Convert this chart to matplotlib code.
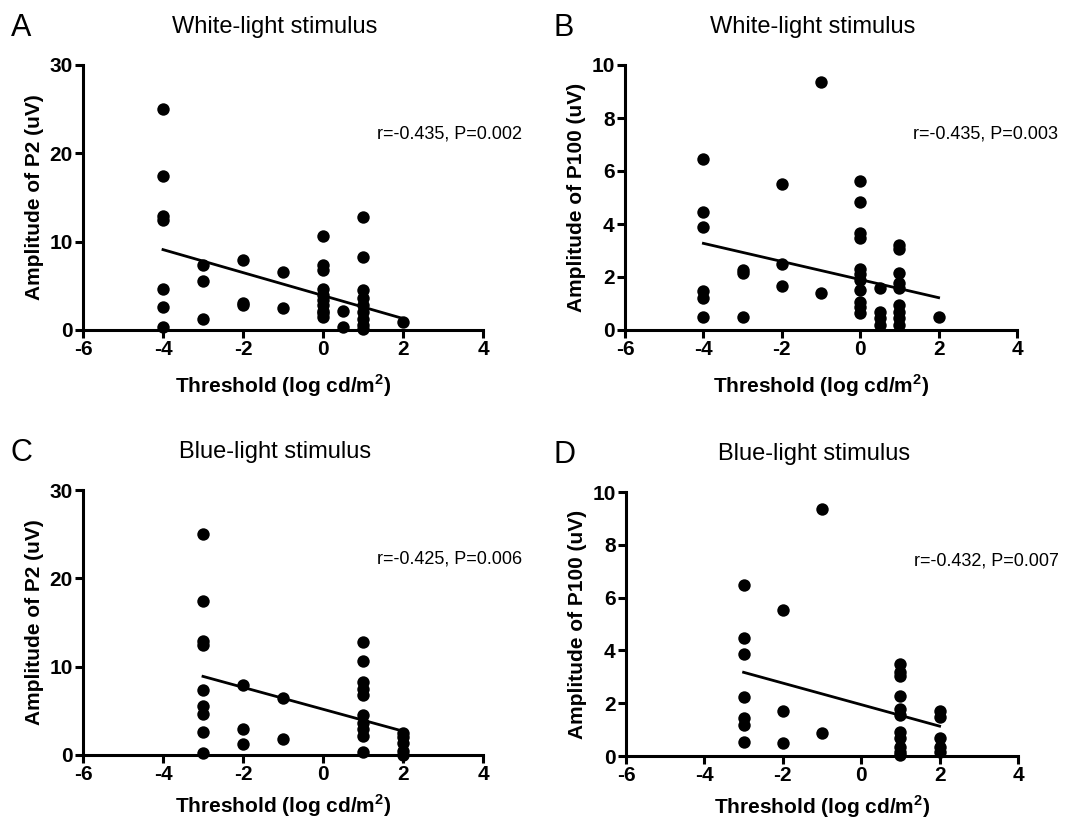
import matplotlib
matplotlib.use("Agg")
import matplotlib.pyplot as plt

plt.rcParams["font.family"] = ["Liberation Sans", "DejaVu Sans"]
plt.rcParams["axes.unicode_minus"] = False
plt.rcParams["mathtext.fontset"] = "custom"
plt.rcParams["mathtext.rm"] = "Liberation Sans"
plt.rcParams["mathtext.bf"] = "Liberation Sans:bold"

# Panel A: white light, P2
a_x = [-4, -4, -4, -4, -4, -4, -4,
       -3, -3, -3,
       -2, -2, -2,
       -1, -1,
       0, 0, 0, 0, 0, 0, 0, 0, 0, 0,
       0.5, 0.5,
       1, 1, 1, 1, 1, 1, 1, 1, 1,
       2]
a_y = [25.0, 17.4, 12.9, 12.5, 4.6, 2.6, 0.3,
       7.4, 5.5, 1.3,
       7.9, 3.1, 2.8,
       6.6, 2.5,
       10.6, 7.4, 6.8, 4.6, 4.0, 3.4, 2.8, 2.2, 1.9, 1.5,
       2.1, 0.3,
       12.8, 8.3, 4.5, 3.6, 2.8, 2.0, 1.3, 0.6, 0.1,
       0.9]
a_fit_x = [-4, 2]
a_fit_y = [9.1, 1.3]

# Panel B: white light, P100
b_x = [-4, -4, -4, -4, -4, -4,
       -3, -3, -3,
       -2, -2, -2,
       -1, -1,
       0, 0, 0, 0, 0, 0, 0, 0, 0, 0, 0,
       0.5, 0.5, 0.5, 0.5,
       1, 1, 1, 1, 1, 1, 1, 1, 1,
       2]
b_y = [6.45, 4.47, 3.9, 1.48, 1.2, 0.5,
       2.26, 2.16, 0.5,
       5.5, 2.48, 1.67,
       9.37, 1.38,
       5.62, 4.83, 3.67, 3.48, 2.29, 2.11, 1.89, 1.5, 1.07, 0.88, 0.63,
       1.57, 0.69, 0.44, 0.19,
       3.2, 3.04, 2.16, 1.76, 1.57, 0.94, 0.69, 0.44, 0.19,
       0.5]
b_fit_x = [-4, 2]
b_fit_y = [3.27, 1.22]

# Panel C: blue light, P2
c_x = [-3, -3, -3, -3, -3, -3, -3, -3, -3,
       -2, -2, -2,
       -1, -1,
       1, 1, 1, 1, 1, 1, 1, 1, 1, 1,
       2, 2, 2, 2, 2]
c_y = [25.0, 17.4, 12.9, 12.5, 7.4, 5.5, 4.6, 2.6, 0.2,
       7.9, 3.0, 1.2,
       6.5, 1.8,
       12.8, 10.6, 8.3, 7.5, 6.8, 4.5, 3.6, 3.0, 2.1, 0.3,
       2.5, 2.0, 1.4, 0.4, 0.0]
c_fit_x = [-3, 2]
c_fit_y = [8.9, 2.7]

# Panel D: blue light, P100
d_x = [-3, -3, -3, -3, -3, -3, -3,
       -2, -2, -2,
       -1, -1,
       1, 1, 1, 1, 1, 1, 1, 1, 1, 1, 1,
       2, 2, 2, 2, 2]
d_y = [6.47, 4.48, 3.88, 2.22, 1.43, 1.17, 0.52,
       5.52, 1.69, 0.5,
       9.37, 0.88,
       3.5, 3.19, 3.04, 2.28, 1.77, 1.55, 0.92, 0.67, 0.35, 0.16, 0.04,
       1.71, 1.46, 0.67, 0.35, 0.16]
d_fit_x = [-3, 2]
d_fit_y = [3.17, 1.13]

x_ticks = [-6, -4, -2, 0, 2, 4]
p2_ticks = [0, 10, 20, 30]
p100_ticks = [0, 2, 4, 6, 8, 10]

panels = [
    ("A", "White-light stimulus", "Amplitude of P2 (uV)", a_x, a_y, a_fit_x, a_fit_y,
     p2_ticks, "r=-0.435, P=0.002"),
    ("B", "White-light stimulus", "Amplitude of P100 (uV)", b_x, b_y, b_fit_x, b_fit_y,
     p100_ticks, "r=-0.435, P=0.003"),
    ("C", "Blue-light stimulus", "Amplitude of P2 (uV)", c_x, c_y, c_fit_x, c_fit_y,
     p2_ticks, "r=-0.425, P=0.006"),
    ("D", "Blue-light stimulus", "Amplitude of P100 (uV)", d_x, d_y, d_fit_x, d_fit_y,
     p100_ticks, "r=-0.432, P=0.007"),
]

W, H = 1070, 823
# axes boxes in pixels: left, top, right, bottom
boxes = [
    (83, 65, 483, 330),
    (625, 65, 1017, 330),
    (83, 490, 483, 755),
    (626, 492, 1018, 756),
]


def draw_panel(fig, box, panel, xpad):
    letter, title, ylabel, xs, ys, fx, fy, yticks, note = panel
    l, t, r, b = box
    ax = fig.add_axes([l / W, 1 - b / H, (r - l) / W, (b - t) / H])

    ax.scatter(xs, ys, s=80, color="black", zorder=3, clip_on=False, linewidths=0)
    ax.plot(fx, fy, color="black", lw=2, zorder=2)

    ax.set_xlim(-6, 4)
    ax.set_ylim(yticks[0], yticks[-1])
    ax.set_xticks(x_ticks)
    ax.set_yticks(yticks)

    for side in ["top", "right"]:
        ax.spines[side].set_visible(False)
    for side in ["left", "bottom"]:
        ax.spines[side].set_linewidth(2.2)

    ax.tick_params(direction="out", length=6, width=2.2, pad=1.5)
    for lab in ax.get_xticklabels() + ax.get_yticklabels():
        lab.set_fontweight("bold")
        lab.set_fontsize(15)

    ax.set_xlabel("Threshold (log cd/m$^\\mathbf{2}$)", fontsize=15, fontweight="bold",
                  labelpad=xpad)
    ax.set_ylabel(ylabel, fontsize=15, fontweight="bold", labelpad=4)

    ax.text(0.735, 0.74, note, transform=ax.transAxes, fontsize=13, ha="left",
            va="center")

    cx = (l + r) / 2 - 8
    fig.text(cx / W, 1 - (t - 38) / H, title, fontsize=17, ha="center", va="center")
    fig.text((l - 72) / W, 1 - (t - 37) / H, letter, fontsize=22, ha="left",
             va="center")
    return ax


def main():
    fig = plt.figure(figsize=(W / 100, H / 100), dpi=100)
    for i, (box, panel) in enumerate(zip(boxes, panels)):
        xpad = 9 if i < 2 else 6
        draw_panel(fig, box, panel, xpad)
    fig.savefig("out.png", dpi=100)


if __name__ == "__main__":
    main()
